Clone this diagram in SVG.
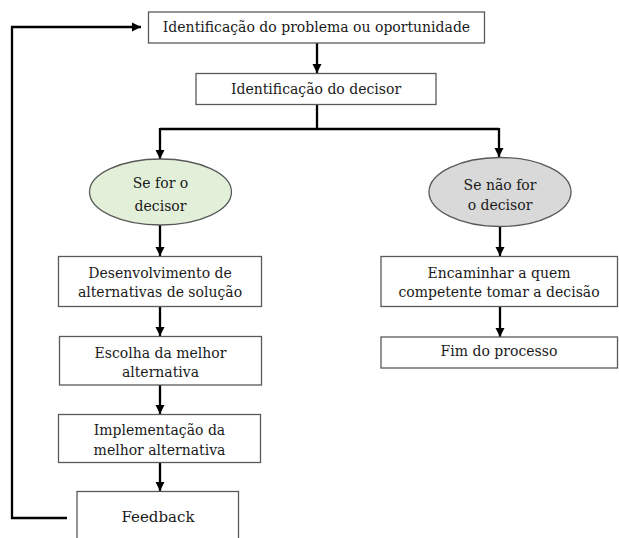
<svg xmlns="http://www.w3.org/2000/svg" width="619" height="538" viewBox="0 0 619 538">
<defs>
<marker id="ah" viewBox="0 0 10 10" refX="10" refY="5" markerWidth="4" markerHeight="4" markerUnits="strokeWidth" orient="auto">
<path d="M0,0 L10,5 L0,10 z" fill="#000"/>
</marker>
<style>
.box{fill:#fff;stroke:#595959;stroke-width:1.3}
.t{font-family:"DejaVu Serif","Liberation Serif",serif;font-size:14px;fill:#1a1a1a;text-anchor:middle}
.c{fill:none;stroke:#000;stroke-width:2.3}
</style>
</defs>
<rect width="619" height="538" fill="#fff"/>
<g id="connectors">
<path class="c" d="M317,43 V73" marker-end="url(#ah)"/>
<path class="c" d="M317,105 V129"/>
<path class="c" d="M160,129 H499"/>
<path class="c" d="M160,128 V159" marker-end="url(#ah)"/>
<path class="c" d="M499,128 V157" marker-end="url(#ah)"/>
<path class="c" d="M160,225 V256" marker-end="url(#ah)"/>
<path class="c" d="M160,307 V336" marker-end="url(#ah)"/>
<path class="c" d="M160,385 V414" marker-end="url(#ah)"/>
<path class="c" d="M160,463 V491" marker-end="url(#ah)"/>
<path class="c" d="M500,227 V256" marker-end="url(#ah)"/>
<path class="c" d="M500,307 V337" marker-end="url(#ah)"/>
<path class="c" d="M67,518 H12 V27 H141" marker-end="url(#ah)"/>
</g>
<g id="n1">
<rect class="box" x="148.5" y="12" width="336" height="31"/>
<text class="t" x="316.5" y="32">Identificação do problema ou oportunidade</text>
</g>
<g id="n2">
<rect class="box" x="196" y="73.5" width="240" height="31"/>
<text class="t" x="316" y="94">Identificação do decisor</text>
</g>
<g id="n3">
<ellipse cx="160.5" cy="192" rx="71" ry="33" fill="#e2efd9" stroke="#595959" stroke-width="1.3"/>
<text class="t" x="160.5" y="188">Se for o</text>
<text class="t" x="160.5" y="211">decisor</text>
</g>
<g id="n4">
<ellipse cx="500" cy="192" rx="71" ry="34.5" fill="#d9d9d9" stroke="#595959" stroke-width="1.3"/>
<text class="t" x="500" y="190">Se não for</text>
<text class="t" x="500" y="210">o decisor</text>
</g>
<g id="n5">
<rect class="box" x="58.5" y="256.5" width="203" height="50"/>
<text class="t" x="160" y="278">Desenvolvimento de</text>
<text class="t" x="160" y="297">alternativas de solução</text>
</g>
<g id="n6">
<rect class="box" x="59.5" y="336.5" width="202" height="48.5"/>
<text class="t" x="160.5" y="358">Escolha da melhor</text>
<text class="t" x="160.5" y="377">alternativa</text>
</g>
<g id="n7">
<rect class="box" x="58.5" y="414.5" width="202" height="48"/>
<text class="t" x="159.5" y="435">Implementação da</text>
<text class="t" x="159.5" y="455">melhor alternativa</text>
</g>
<g id="n8">
<rect class="box" x="77" y="491.5" width="161.5" height="55"/>
<text class="t" x="158" y="522" style="font-size:15px">Feedback</text>
</g>
<g id="n9">
<rect class="box" x="381" y="256.5" width="236.5" height="50"/>
<text class="t" x="499" y="278">Encaminhar a quem</text>
<text class="t" x="499" y="297">competente tomar a decisão</text>
</g>
<g id="n10">
<rect class="box" x="381" y="337" width="236.5" height="31"/>
<text class="t" x="499" y="356">Fim do processo</text>
</g>
</svg>
